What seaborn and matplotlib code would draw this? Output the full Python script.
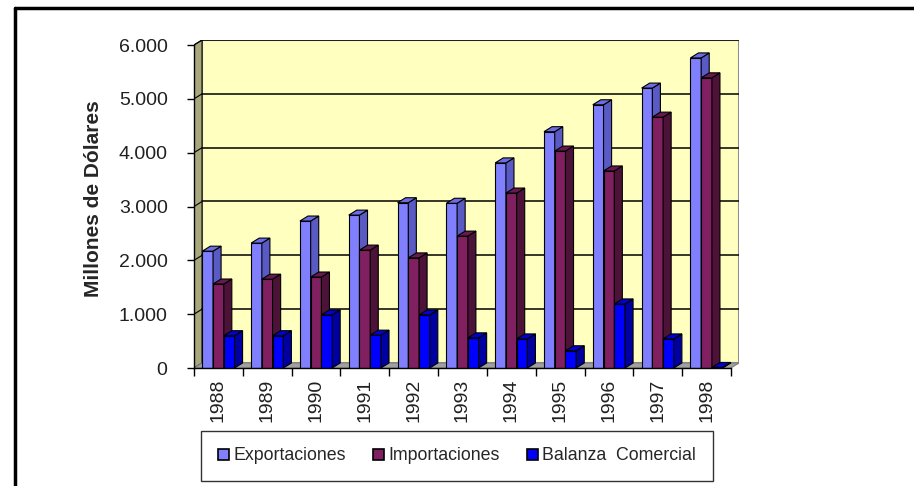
import numpy as np
import pandas as pd
import seaborn as sns
import matplotlib.pyplot as plt
from matplotlib.patches import Polygon, Patch
from matplotlib.lines import Line2D

years = ['1988', '1989', '1990', '1991', '1992', '1993', '1994', '1995', '1996', '1997', '1998']
exportaciones = [2170, 2320, 2730, 2840, 3070, 3060, 3810, 4390, 4890, 5200, 5760]
importaciones = [1560, 1650, 1690, 2190, 2045, 2450, 3250, 4030, 3660, 4660, 5390]
balanza = [600, 600, 985, 610, 985, 560, 540, 320, 1190, 540, 10]
series = ['Exportaciones', 'Importaciones', 'Balanza  Comercial']
yticks = [0, 1000, 2000, 3000, 4000, 5000, 6000]
ytick_labels = ['0', '1.000', '2.000', '3.000', '4.000', '5.000', '6.000']

front = ['#8080FF', '#802060', '#0000FF']
side = ['#5A5AC4', '#4C1238', '#0000A0']
top = ['#6C6CE4', '#661A4E', '#0000D0']

df = pd.DataFrame({
    'Año': years * 3,
    'Serie': [series[0]] * 11 + [series[1]] * 11 + [series[2]] * 11,
    'Valor': exportaciones + importaciones + balanza,
})

sns.set_theme(style='white')
plt.rcParams['font.family'] = ['Liberation Sans', 'DejaVu Sans']

# profundidad del efecto 3D (en unidades de datos)
dx = 0.165
dy = 93
ymax = 6000

fig = plt.figure(figsize=(9.14, 4.86), dpi=100)
ax = fig.add_axes([194 / 914, 118 / 486, 545 / 914, 328 / 486])
ax.set_facecolor('white')

x0, x1 = -0.5, len(years) - 0.5

# paredes
ax.add_patch(Polygon([(x0 + dx, dy), (x1 + dx, dy), (x1 + dx, ymax + dy), (x0 + dx, ymax + dy)],
                     closed=True, facecolor='#FFFFC0', edgecolor='#909090', lw=1.5, zorder=0.5))
ax.add_patch(Polygon([(x0, 0), (x0, ymax), (x0 + dx, ymax + dy), (x0 + dx, dy)],
                     closed=True, facecolor='#A8A87C', edgecolor='black', lw=0.8, zorder=0.6))
ax.add_patch(Polygon([(x0, 0), (x1, 0), (x1 + dx, dy), (x0 + dx, dy)],
                     closed=True, facecolor='#A0A0A0', edgecolor='#808080', lw=0.8, zorder=0.6))
for v in yticks[1:]:
    ax.plot([x0 + dx, x1 + dx], [v + dy, v + dy], color='black', lw=1.1, zorder=1)
    ax.plot([x0, x0 + dx], [v, v + dy], color='black', lw=0.8, zorder=1)

sns.barplot(data=df, x='Año', y='Valor', hue='Serie', palette=front, width=0.66,
            saturation=1, edgecolor='black', linewidth=0.8, legend=False, ax=ax)

for i, cont in enumerate(ax.containers):
    for p in cont.patches:
        p.set_zorder(2 + i)
        x, w, h = p.get_x(), p.get_width(), p.get_height()
        ax.add_patch(Polygon([(x + w, 0), (x + w, h), (x + w + dx, h + dy), (x + w + dx, dy)],
                             closed=True, facecolor=side[i], edgecolor='black', lw=0.8, zorder=2 + i))
        ax.add_patch(Polygon([(x, h), (x + w, h), (x + w + dx, h + dy), (x + dx, h + dy)],
                             closed=True, facecolor=top[i], edgecolor='black', lw=0.8, zorder=2 + i))

ax.set_xlim(x0, x1 + dx)
ax.set_ylim(0, ymax + dy)

for s in ['top', 'right']:
    ax.spines[s].set_visible(False)
ax.spines['left'].set_bounds(0, ymax)
ax.spines['bottom'].set_bounds(x0, x1)
for s in ['left', 'bottom']:
    ax.spines[s].set_color('black')
    ax.spines[s].set_linewidth(1)
    ax.spines[s].set_zorder(6)

ax.set_yticks(yticks)
ax.set_yticklabels(ytick_labels, fontsize=14, color='#202020')
ax.set_xticks(range(len(years)))
ax.set_xticklabels(years, rotation=90, fontsize=14, color='#202020')
ax.set_xticks(np.arange(x0, x1 + 0.5, 1), minor=True)
ax.tick_params(axis='y', left=True, length=5, width=1, color='black', pad=14)
ax.tick_params(axis='x', which='major', bottom=True, length=0, pad=8)
ax.tick_params(axis='x', which='minor', bottom=True, length=6, width=1, color='black')
ax.set_xlabel('')
ax.set_ylabel('Millones de Dólares', fontsize=15, fontweight='bold')
ax.yaxis.set_label_coords(-0.167, 0.515)

handles = [Patch(facecolor=front[i], edgecolor='black', lw=1.2) for i in range(3)]
leg = fig.legend(handles, series, loc='center', bbox_to_anchor=(457 / 914, 1 - 456 / 486),
                 ncol=3, fontsize=12.8, frameon=True, fancybox=False, edgecolor='black',
                 handlelength=0.6, handleheight=0.6, handletextpad=0.25, columnspacing=1.55,
                 borderpad=0.95, borderaxespad=0)
leg.get_frame().set_linewidth(1)

# marco de la figura (solo arriba e izquierda)
fig.add_artist(Line2D([15 / 914, 1], [1 - 8 / 486, 1 - 8 / 486], color='black', lw=2.5,
                      transform=fig.transFigure))
fig.add_artist(Line2D([15 / 914, 15 / 914], [0, 1 - 8 / 486], color='black', lw=2.5,
                      transform=fig.transFigure))

fig.savefig('out.png', dpi=100)
